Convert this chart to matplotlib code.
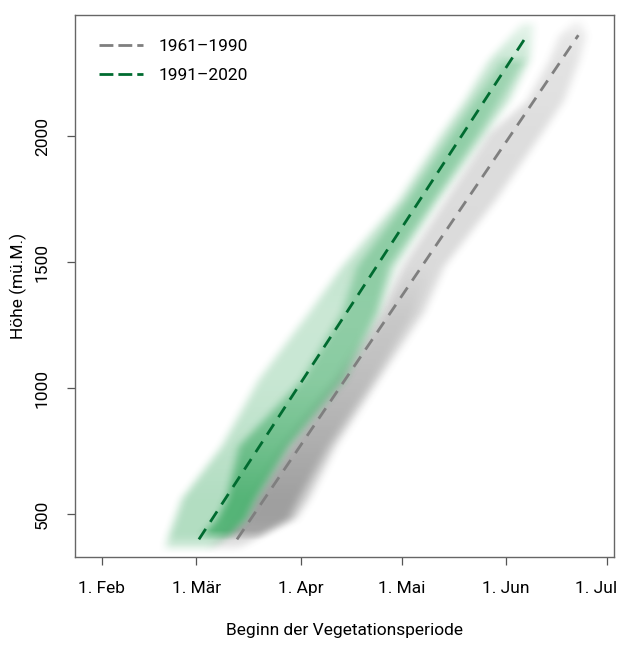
import matplotlib
matplotlib.use('Agg')
import matplotlib.pyplot as plt
import matplotlib.transforms as mtransforms
import numpy as np
from matplotlib.lines import Line2D

plt.rcParams['font.family'] = ['Roboto', 'DejaVu Sans']

# axis ticks (day of year)
month_days = [32, 60, 91, 121, 152, 182]
month_labels = ['1. Feb', '1. Mär', '1. Apr', '1. Mai', '1. Jun', '1. Jul']
height_ticks = [500, 1000, 1500, 2000]

# fitted lines: day of year vs height
old_line_day = [72.1, 173.4]
old_line_h = [400, 2400]
new_line_day = [60.8, 158.2]
new_line_h = [400, 2400]

# point clouds read off as bands: height, left/right edge (day), density
# 1991-2020, whole cloud
new_h = [362, 413, 480, 560, 769, 1034, 1300, 1482, 1747, 2012, 2142, 2301, 2451]
new_left = [50.1, 51.3, 53.1, 55.2, 67.0, 78.0, 92.9, 102.7, 119.6, 132.4, 139.2, 146.3, 156.1]
new_right = [65.0, 70.0, 75.1, 78.0, 87.8, 104.8, 114.6, 119.6, 132.4, 146.3, 153.2, 159.1, 160.6]
new_dens = [0.15, 0.35, 0.35, 0.35, 0.3, 0.25, 0.24, 0.27, 0.28, 0.28, 0.28, 0.25, 0.1]
# 1991-2020, dense core
newc_h = [413, 480, 560, 769, 1034, 1300, 1482, 1747, 2012, 2301]
newc_left = [61.1, 65.6, 68.5, 72.1, 90.8, 102.7, 107.1, 122.0, 135.4, 150.2]
newc_right = [70.0, 75.1, 78.0, 87.8, 103.6, 114.0, 117.5, 130.9, 144.3, 157.6]
newc_dens = [0.6, 0.65, 0.65, 0.5, 0.38, 0.35, 0.33, 0.32, 0.3, 0.22]

# 1961-1990, whole cloud
old_h = [362, 413, 480, 560, 769, 1034, 1300, 1482, 1747, 2012, 2142, 2301, 2400, 2459]
old_left = [63.2, 66.2, 73.0, 76.0, 84.9, 100.6, 114.0, 120.5, 133.3, 146.3, 157.6, 164.2, 167.1, 171.6]
old_right = [73.0, 79.8, 89.9, 93.8, 101.8, 114.6, 127.9, 133.9, 149.3, 163.0, 169.5, 174.0, 176.0, 174.6]
old_dens = [0.12, 0.3, 0.35, 0.35, 0.3, 0.28, 0.27, 0.26, 0.25, 0.24, 0.22, 0.2, 0.16, 0.06]
# 1961-1990, dense core
oldc_h = [413, 480, 560, 769, 1034, 1300, 1482]
oldc_left = [68.5, 74.5, 77.4, 87.8, 102.7, 116.1, 122.0]
oldc_right = [78.9, 87.8, 90.8, 99.7, 113.1, 125.0, 130.0]
oldc_dens = [0.45, 0.5, 0.5, 0.4, 0.25, 0.15, 0.0]

green = (0.14, 0.62, 0.31)
grey = (0.45, 0.45, 0.45)


def blur(a, n):
    k = np.ones(n) / n
    a = np.apply_along_axis(lambda r: np.convolve(r, k, mode='same'), 1, a)
    a = np.apply_along_axis(lambda c: np.convolve(c, k, mode='same'), 0, a)
    return a


def cloud(ax, h, left, right, dens, color):
    xs = np.linspace(20, 186, 700)
    ys = np.linspace(330, 2480, 600)
    L = np.interp(ys, h, left)[:, None]
    R = np.interp(ys, h, right)[:, None]
    D = np.interp(ys, h, dens, left=0, right=0)[:, None]
    d = np.minimum(xs[None, :] - L, R - xs[None, :])
    a = D * np.clip((d + 1.0) / 3.0, 0, 1)
    a = blur(a, 11)
    img = np.zeros((len(ys), len(xs), 4))
    img[..., :3] = color
    img[..., 3] = a
    ax.imshow(img, extent=[20, 186, 330, 2480], origin='lower', aspect='auto',
              interpolation='bilinear', zorder=1)


fig = plt.figure(figsize=(6.19, 6.53), dpi=100)
ax = fig.add_axes([0.121, 0.147, 0.871, 0.83])

cloud(ax, old_h, old_left, old_right, old_dens, grey)
cloud(ax, oldc_h, oldc_left, oldc_right, oldc_dens, grey)
cloud(ax, new_h, new_left, new_right, new_dens, green)
cloud(ax, newc_h, newc_left, newc_right, newc_dens, green)

ax.plot(old_line_day, old_line_h, color='#7f7f7f', lw=2.0, dashes=(4.5, 3), zorder=3)
ax.plot(new_line_day, new_line_h, color='#006b30', lw=2.0, dashes=(4.5, 3), zorder=3)

ax.set_xlim(24, 184)
ax.set_ylim(330, 2480)

ax.set_xticks(month_days)
ax.set_xticklabels(month_labels)
ax.set_yticks(height_ticks)
ax.set_yticklabels([str(v) for v in height_ticks], rotation=90, va='center')
ax.tick_params(labelsize=12.5, length=6, width=0.9, color='#555555', pad=12)
ax.tick_params(axis='x', pad=11)

# nudge the last month label so it stays inside the figure
last = ax.get_xticklabels()[-1]
last.set_transform(last.get_transform() +
                   mtransforms.ScaledTranslation(-11 / 100, 0, fig.dpi_scale_trans))

for sp in ax.spines.values():
    sp.set_color('#666666')
    sp.set_linewidth(1.0)

ax.set_xlabel('Beginn der Vegetationsperiode', fontsize=12.5, labelpad=20)
ax.set_ylabel('Höhe (mü.M.)', fontsize=12.5, labelpad=6)

handles = [Line2D([], [], color='#7f7f7f', lw=2.0, dashes=(5, 1.8)),
           Line2D([], [], color='#006b30', lw=2.0, dashes=(5, 1.8))]
ax.legend(handles, ['1961–1990', '1991–2020'], loc='upper left', frameon=False,
          fontsize=12.5, handlelength=2.5, handletextpad=0.9, labelspacing=0.75,
          borderaxespad=1.0, bbox_to_anchor=(0.0, 1.0))

fig.savefig('out.png', dpi=100)
